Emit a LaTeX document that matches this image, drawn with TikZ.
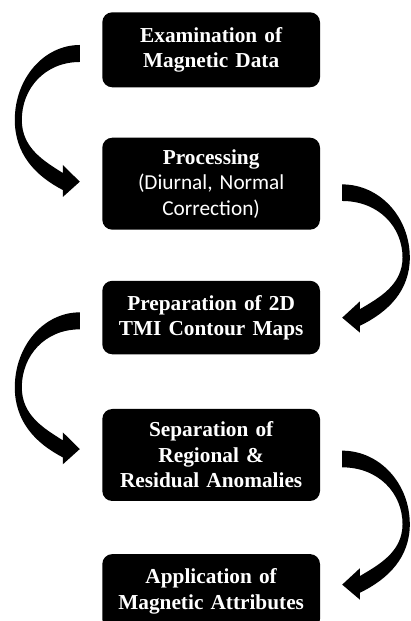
\documentclass[tikz,border=0pt]{standalone}
\usepackage{fontspec}
\setmainfont{Liberation Serif}
\newfontfamily\calibrifont{Carlito}
\usetikzlibrary{calc,positioning}

\begin{document}
\begin{tikzpicture}[x=1pt,y=1pt,
  stage/.style={fill=black,text=white,rounded corners=10pt,text width=205pt,inner xsep=6.35pt,inner ysep=0pt,
    align=center,minimum height=75pt,font=\bfseries\fontsize{21.3}{25.5}\selectfont},
  bendarrow/.pic={\fill[black] (0,8.5) .. controls (-36,8.5) and (-65,-25) .. (-65,-66.5)
      .. controls (-65,-100) and (-45,-122) .. (-17,-136.5) -- (-17,-143.5) -- (0,-128.2) -- (-17,-111.5)
      -- (-17,-119.5) .. controls (-35,-108) and (-58,-95) .. (-58,-66.5)
      .. controls (-58,-35) and (-35,-8.5) .. (0,-8.5) -- cycle;}]
\useasboundingbox (0,0) rectangle (410,621);
\clip (0,0) rectangle (410,621);
\node[stage] (exam) at (211.15,571.2) {Examination of\\Magnetic Data};
\node[stage,minimum height=92pt,below=50pt of exam] (proc) {Processing\\\calibrifont\mdseries (Diurnal, Normal\\Correction)};
\node[stage,minimum height=73.5pt,below=50.7pt of proc] (prep) {Preparation of 2D\\TMI Contour Maps};
\node[stage,minimum height=92pt,below=54.3pt of prep] (sep) {Separation of\\Regional \&\\Residual Anomalies};
\node[stage,below=52.7pt of sep] (appl) {Application of\\Magnetic Attributes};
\pic at ($(exam.west)+(-22.3,-3.7)$) {bendarrow};
\pic[xscale=-1.04,yscale=.975] at ($(proc.east)+(22,-9)$) {bendarrow};
\pic at ($(prep.west)+(-22.3,-3.3)$) {bendarrow};
\pic[xscale=-1.04,yscale=.98] at ($(sep.east)+(22,-4)$) {bendarrow};
\end{tikzpicture}
\end{document}
